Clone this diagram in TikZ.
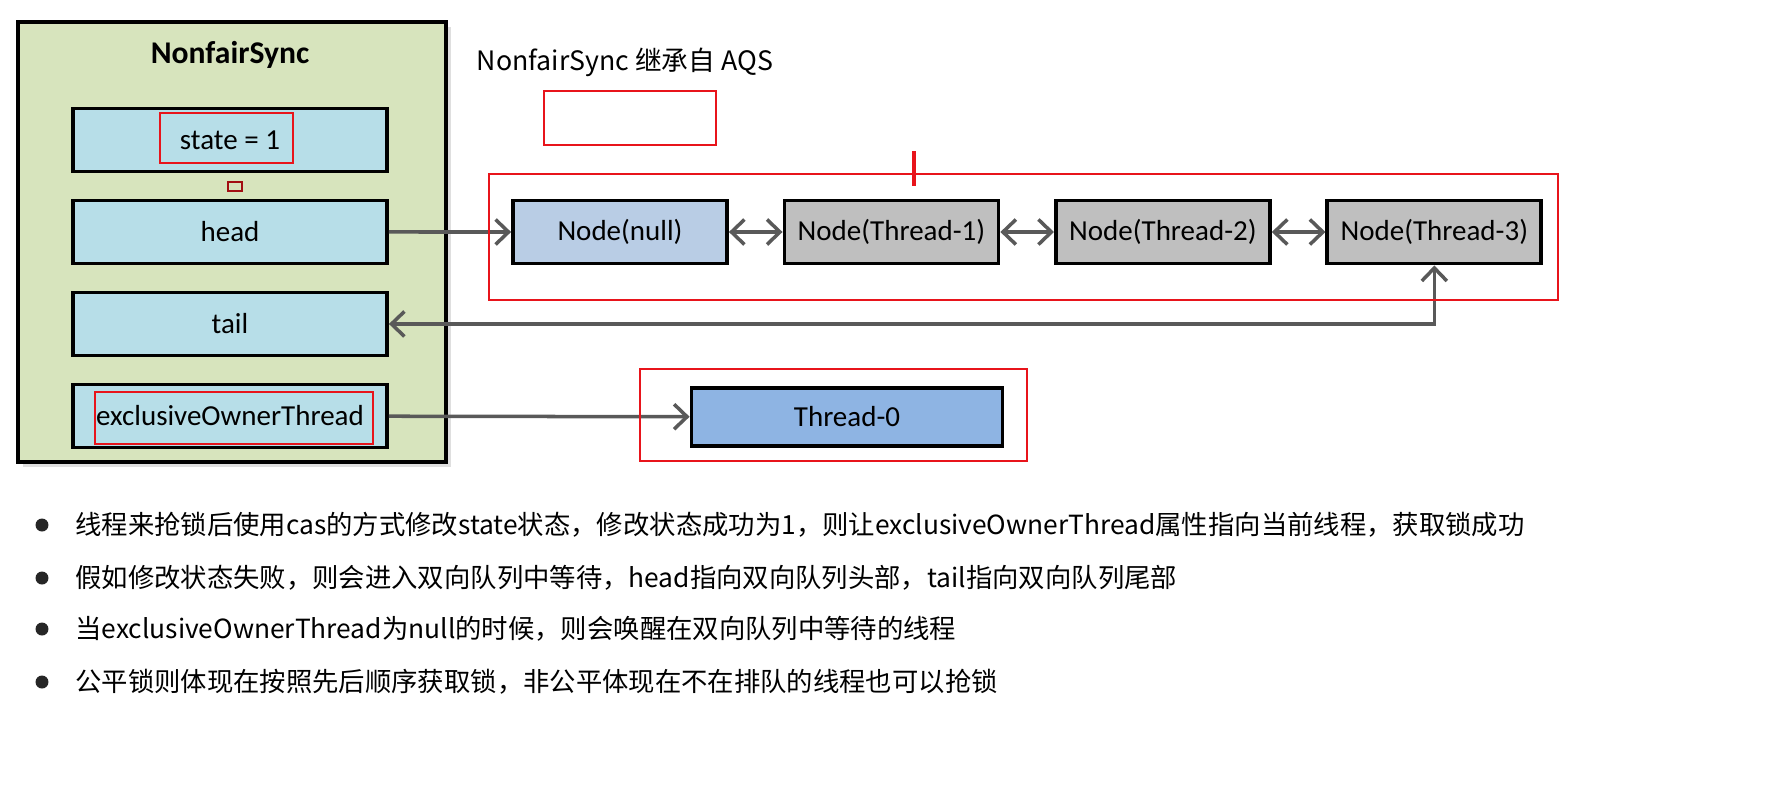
\documentclass[tikz,border=0pt]{standalone}
\usepackage{fontspec}
\setmainfont{Carlito}
\newfontfamily\cjk{Noto Sans CJK SC}
\usetikzlibrary{positioning,arrows.meta,shadows}
\definecolor{syncgreen}{HTML}{D7E4BD}
\definecolor{fieldblue}{HTML}{B7DEE8}
\definecolor{nullblue}{HTML}{B9CDE5}
\definecolor{waitgray}{HTML}{BFBFBF}
\definecolor{ownerblue}{HTML}{8EB4E3}
\definecolor{linkgray}{HTML}{595959}
\definecolor{markred}{HTML}{E8141B}
\tikzset{barb/.tip={Straight Barb[length=2.6mm,width=5mm,line width=2pt]}}

\begin{document}
\begin{tikzpicture}[x=0.02cm, y=-0.02cm, node distance=5.43cm,
    field/.style = {draw, line width=2.2pt, fill=fieldblue, minimum width=6.28cm, minimum height=1.26cm, font=\fontsize{16.5}{19}\selectfont},
    qnode/.style = {draw, line width=2.2pt, fill=waitgray, minimum width=4.28cm, minimum height=1.26cm, font=\fontsize{16.5}{19}\selectfont},
    link/.style = {draw=linkgray, line width=2pt, -barb},
    twoway/.style = {draw=linkgray, line width=2pt, barb-barb},
    redbox/.style = {draw=markred, line width=1.4pt},
    dot/.style = {circle, fill=black!85, minimum size=0.26cm, inner sep=0pt},
    note/.style = {anchor=west, inner sep=0pt, font=\cjk\fontsize{15}{18}\selectfont}]
  \useasboundingbox (0,0) rectangle (1792,801);
  % NonfairSync object
  \draw[line width=2.2pt, fill=syncgreen, drop shadow={opacity=0.25, shadow xshift=0.1cm, shadow yshift=-0.1cm}] (18,22) rectangle (446,462);
  \node[font=\bfseries\fontsize{18}{21}\selectfont] (sync) at (230,55) {NonfairSync};
  \node[field] (state) at (230,140) {state = 1};
  \node[field] (head) [below of=state, node distance=1.84cm] {head};
  \node[field] (tail) [below of=head, node distance=1.84cm] {tail};
  \node[field] (owner) [below of=tail, node distance=1.84cm] {exclusiveOwnerThread};
  % waiting queue
  \node[qnode, fill=nullblue] (n0) at (620,232) {Node(null)};
  \node[qnode] (n1) [right of=n0] {Node(Thread-1)};
  \node[qnode] (n2) [right of=n1] {Node(Thread-2)};
  \node[qnode] (n3) [right of=n2] {Node(Thread-3)};
  \node[draw, line width=2.2pt, fill=ownerblue, minimum width=6.22cm, minimum height=1.16cm, font=\fontsize{16.5}{19}\selectfont] (t0) at (847,417) {Thread-0};
  \node[font=\cjk\fontsize{15.2}{18}\selectfont] (aqs) at (625,62) {NonfairSync 继承自 AQS};
  % links
  \draw[link] (head) -- (n0);
  \draw[twoway] (n0) -- (n1);
  \draw[twoway] (n1) -- (n2);
  \draw[twoway] (n2) -- (n3);
  \draw[twoway] (n3.south) |- (tail.east);
  \draw[link] (owner) -- (t0);
  % red marks
  \draw[redbox] (160,113) rectangle (293,163);
  \draw[redbox] (95,392) rectangle (373,444);
  \draw[draw=markred!70!black, line width=0.8pt] (228,182) rectangle (242,191);
  \draw[redbox] (544,91) rectangle (716,145);
  \draw[redbox] (489,174) rectangle (1558,300);
  \draw[redbox, line width=1.8pt] (914,151) -- (914,186);
  \draw[redbox] (640,369) rectangle (1027,461);
  % notes
  \node[dot] (d1) at (42,525) {};
  \node[dot] (d2) at (42,578) {};
  \node[dot] (d3) at (42,629) {};
  \node[dot] (d4) at (42,682) {};
  \node[note] (l1) at (75,525) {线程来抢锁后使用cas的方式修改state状态，修改状态成功为1，则让exclusiveOwnerThread属性指向当前线程，获取锁成功};
  \node[note] (l2) at (75,578) {假如修改状态失败，则会进入双向队列中等待，head指向双向队列头部，tail指向双向队列尾部};
  \node[note] (l3) at (75,629) {当exclusiveOwnerThread为null的时候，则会唤醒在双向队列中等待的线程};
  \node[note] (l4) at (75,682) {公平锁则体现在按照先后顺序获取锁，非公平体现在不在排队的线程也可以抢锁};
\end{tikzpicture}
\end{document}
